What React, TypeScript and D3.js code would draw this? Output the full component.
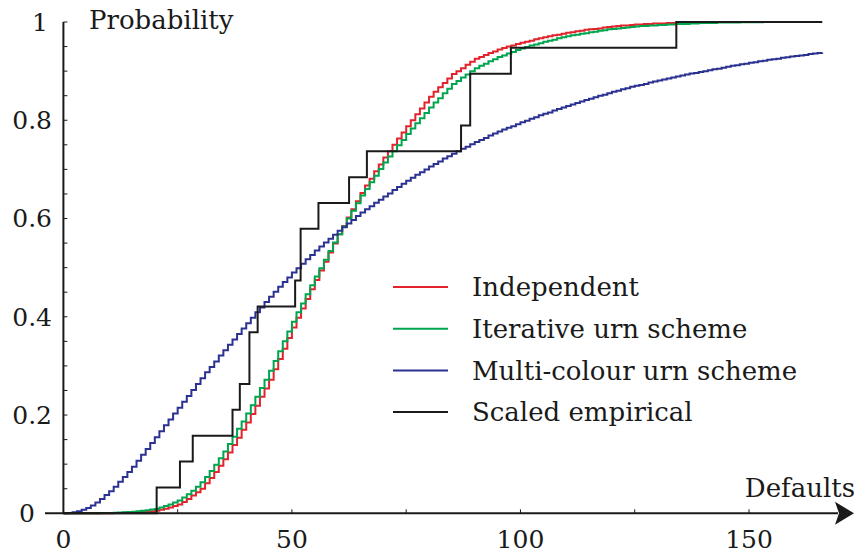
import React from 'react';
import * as d3 from 'd3';

// Step CDFs, one value per integer number of defaults (0..166)
const independent = [
  0, 0, 0, 0, 0, 0, 0.0001, 0.0001, 0.0002, 0.0002, 0.0003,
  0.0005, 0.0008, 0.001, 0.0013, 0.0015, 0.0022, 0.0029, 0.0036, 0.0043, 0.005,
  0.007, 0.0095, 0.012, 0.015, 0.018, 0.023, 0.029, 0.036, 0.043, 0.05,
  0.061, 0.072, 0.084, 0.097, 0.11, 0.124, 0.139, 0.154, 0.17, 0.185,
  0.202, 0.219, 0.237, 0.254, 0.272, 0.293, 0.314, 0.335, 0.357, 0.378,
  0.398, 0.417, 0.436, 0.456, 0.475, 0.494, 0.512, 0.531, 0.549, 0.568,
  0.585, 0.602, 0.619, 0.635, 0.652, 0.667, 0.681, 0.696, 0.71, 0.724,
  0.737, 0.75, 0.763, 0.775, 0.788, 0.8, 0.812, 0.824, 0.836, 0.848,
  0.858, 0.867, 0.876, 0.885, 0.894, 0.9, 0.906, 0.913, 0.919, 0.925,
  0.929, 0.933, 0.937, 0.94, 0.944, 0.947, 0.95, 0.952, 0.955, 0.958,
  0.96, 0.962, 0.965, 0.967, 0.969, 0.971, 0.973, 0.974, 0.976, 0.978,
  0.979, 0.981, 0.982, 0.984, 0.985, 0.986, 0.987, 0.989, 0.99, 0.991,
  0.992, 0.993, 0.993, 0.994, 0.995, 0.995, 0.996, 0.996, 0.997, 0.997,
  0.997, 0.998, 0.998, 0.999, 0.999, 0.999, 0.999, 0.999, 0.9995, 0.9995,
  0.9995, 0.9995, 1, 1, 1, 1, 1, 1, 1, 1,
  1, 1, 1, 1, 1, 1, 1, 1, 1, 1,
  1, 1, 1, 1, 1, 1,
];

const iterativeUrn = [
  0, 0, 0, 0, 0, 0.0001, 0.0002, 0.0003, 0.0004, 0.0005, 0.0006,
  0.001, 0.0014, 0.0019, 0.0024, 0.003, 0.004, 0.0052, 0.0064, 0.0077, 0.009,
  0.0118, 0.0148, 0.018, 0.022, 0.026, 0.032, 0.039, 0.046, 0.054, 0.063,
  0.074, 0.086, 0.099, 0.112, 0.126, 0.141, 0.156, 0.172, 0.187, 0.203,
  0.22, 0.237, 0.255, 0.272, 0.29, 0.31, 0.33, 0.35, 0.37, 0.39,
  0.409, 0.427, 0.446, 0.464, 0.482, 0.499, 0.516, 0.534, 0.551, 0.568,
  0.584, 0.6, 0.616, 0.631, 0.647, 0.66, 0.674, 0.687, 0.701, 0.714,
  0.726, 0.737, 0.749, 0.76, 0.772, 0.783, 0.794, 0.804, 0.815, 0.826,
  0.836, 0.845, 0.855, 0.864, 0.874, 0.88, 0.887, 0.893, 0.9, 0.906,
  0.911, 0.915, 0.92, 0.924, 0.929, 0.932, 0.936, 0.939, 0.943, 0.946,
  0.949, 0.952, 0.954, 0.957, 0.96, 0.962, 0.964, 0.967, 0.969, 0.971,
  0.973, 0.974, 0.976, 0.977, 0.979, 0.98, 0.982, 0.983, 0.985, 0.986,
  0.987, 0.988, 0.989, 0.99, 0.991, 0.992, 0.992, 0.993, 0.993, 0.994,
  0.994, 0.995, 0.995, 0.996, 0.996, 0.996, 0.997, 0.997, 0.998, 0.998,
  0.998, 0.998, 0.999, 0.999, 0.999, 0.999, 0.999, 0.9995, 0.9995, 0.9995,
  0.9995, 0.9995, 1, 1, 1, 1, 1, 1, 1, 1,
  1, 1, 1, 1, 1, 1,
];

const multiColourUrn = [
  0, 0.0005, 0.002, 0.004, 0.007, 0.011, 0.016, 0.022, 0.029, 0.037, 0.045,
  0.054, 0.064, 0.074, 0.084, 0.095, 0.107, 0.119, 0.131, 0.143, 0.155,
  0.167, 0.179, 0.191, 0.203, 0.215, 0.227, 0.239, 0.251, 0.263, 0.275,
  0.287, 0.298, 0.309, 0.321, 0.332, 0.343, 0.354, 0.365, 0.376, 0.387,
  0.398, 0.409, 0.419, 0.43, 0.441, 0.451, 0.461, 0.471, 0.48, 0.49,
  0.499, 0.508, 0.517, 0.526, 0.535, 0.543, 0.551, 0.559, 0.567, 0.575,
  0.582, 0.59, 0.597, 0.605, 0.612, 0.619, 0.625, 0.632, 0.638, 0.645,
  0.651, 0.658, 0.664, 0.671, 0.677, 0.683, 0.689, 0.694, 0.7, 0.706,
  0.711, 0.716, 0.722, 0.727, 0.732, 0.737, 0.742, 0.746, 0.751, 0.756,
  0.76, 0.764, 0.769, 0.773, 0.777, 0.781, 0.785, 0.788, 0.792, 0.796,
  0.799, 0.803, 0.806, 0.81, 0.813, 0.816, 0.82, 0.823, 0.826, 0.829,
  0.832, 0.835, 0.838, 0.841, 0.844, 0.847, 0.85, 0.852, 0.855, 0.858,
  0.86, 0.863, 0.865, 0.868, 0.87, 0.872, 0.874, 0.877, 0.879, 0.881,
  0.883, 0.885, 0.887, 0.889, 0.891, 0.893, 0.895, 0.896, 0.898, 0.9,
  0.902, 0.904, 0.905, 0.907, 0.909, 0.911, 0.912, 0.914, 0.915, 0.917,
  0.918, 0.92, 0.921, 0.923, 0.924, 0.925, 0.927, 0.928, 0.93, 0.931,
  0.932, 0.933, 0.935, 0.936, 0.937, 0.938,
];

// Scaled empirical: jump locations and how many of the 19 observations jump there
const empiricalJumps = [20.4, 25.5, 28.3, 37.0, 38.6, 40.7, 42.5, 50.7, 51.9, 55.8, 62.5, 66.4, 87.0, 89.0, 97.9, 134.1];
const empiricalCounts = [1, 1, 1, 1, 1, 2, 1, 1, 2, 1, 1, 1, 1, 2, 1, 1];
const empiricalTotal = 19;

const xTicks = [25, 50, 75, 100, 125, 150];
const xTickLabels = [0, 50, 100, 150];
const yTickLabels = [0, 0.2, 0.4, 0.6, 0.8, 1];
const xMax = 166;

const seriesNames = ['Independent', 'Iterative urn scheme', 'Multi-colour urn scheme', 'Scaled empirical'];
const seriesColors = ['#e3232b', '#00a54f', '#2b3190', '#1a1a1a'];

const FONT = '"DejaVu Serif", serif';

export default function App() {
  const width = 865;
  const height = 555;

  const x = d3.scaleLinear().domain([0, 150]).range([63.4, 749]);
  const y = d3.scaleLinear().domain([0, 1]).range([513.3, 22]);

  const step = d3
    .line<[number, number]>()
    .x((d) => x(d[0]))
    .y((d) => y(d[1]))
    .curve(d3.curveStepAfter);

  const toPts = (vals: number[]) => vals.map((v, i) => [i, v] as [number, number]);

  // empirical step points
  const empPts: [number, number][] = [[0, 0]];
  let cum = 0;
  empiricalJumps.forEach((j, i) => {
    cum += empiricalCounts[i];
    empPts.push([j, cum / empiricalTotal]);
  });
  empPts.push([xMax, cum / empiricalTotal]);

  const paths = [toPts(independent), toPts(iterativeUrn), toPts(multiColourUrn), empPts];

  const yMinor = d3.range(1, 21).map((k) => k * 0.05);
  const axisY = y(0);
  const axisX = x(0);

  return (
    <svg width={width} height={height} style={{ position: 'absolute', left: 0, top: 0, background: '#fff' }}>
      {/* curves */}
      <g fill="none" strokeWidth={2} strokeLinejoin="miter">
        {paths.map((p, i) => (
          <path key={i} d={step(p) || ''} stroke={seriesColors[i]} />
        ))}
      </g>

      {/* axes */}
      <g stroke="#1a1a1a" strokeWidth={2} fill="none">
        <line x1={45} x2={838} y1={axisY} y2={axisY} />
        <line x1={axisX} x2={axisX} y1={axisY} y2={y(1)} />
        {xTicks.map((t) => (
          <line key={t} x1={x(t)} x2={x(t)} y1={axisY} y2={axisY - 4} strokeWidth={1} />
        ))}
        {yMinor.map((t) => (
          <line key={t} x1={axisX} x2={axisX + 4} y1={y(t)} y2={y(t)} strokeWidth={1} />
        ))}
      </g>
      <path
        d={`M854,${axisY} L835,${axisY - 11.5} L839,${axisY} L835,${axisY + 11.5} Z`}
        fill="#1a1a1a"
      />

      {/* tick labels */}
      <g fontFamily={FONT} fontSize={25} fill="#1a1a1a">
        {xTickLabels.map((t) => (
          <text key={t} x={x(t)} y={548} textAnchor="middle">
            {t}
          </text>
        ))}
        {yTickLabels.map((t) => {
          const lx = t === 0 ? 35 : t === 1 ? 48 : 52;
          return (
            <text key={t} x={lx} y={y(t)} dy="0.35em" textAnchor="end">
              {t === 0 || t === 1 ? String(t) : t.toFixed(1)}
            </text>
          );
        })}
      </g>
      <g fontFamily={FONT} fontSize={26} fill="#1a1a1a">
        <text x={89} y={29}>Probability</text>
        <text x={855} y={497} textAnchor="end">Defaults</text>
      </g>

      {/* legend */}
      <g fontFamily={FONT} fontSize={26} fill="#1a1a1a">
        {seriesNames.map((name, i) => {
          const ry = 287 + i * 41.7;
          return (
            <g key={name}>
              <line x1={393} x2={448} y1={ry} y2={ry} stroke={seriesColors[i]} strokeWidth={2} />
              <text x={472} y={ry} dy="0.35em">
                {name}
              </text>
            </g>
          );
        })}
      </g>
    </svg>
  );
}
